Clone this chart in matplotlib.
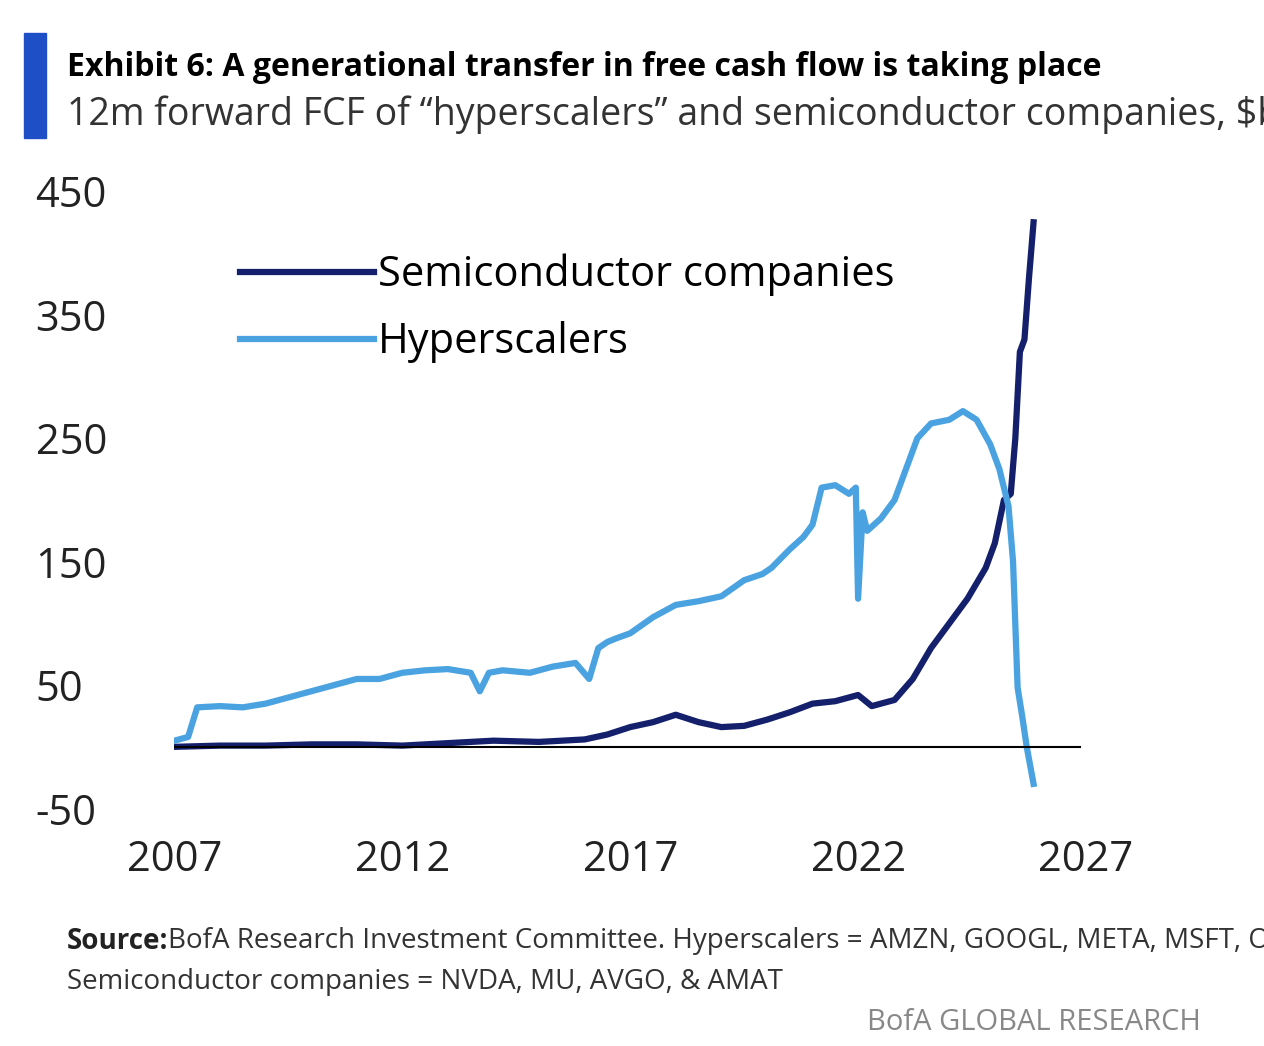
import matplotlib.pyplot as plt

hyper_x = [2007.0, 2007.3, 2007.5, 2008.0, 2008.5, 2009.0, 2009.5, 2010.0, 2010.5, 2011.0, 2011.5, 2012.0,
           2012.5, 2013.0, 2013.5, 2013.7, 2013.9, 2014.2, 2014.8, 2015.3, 2015.8, 2016.1, 2016.3, 2016.5,
           2016.7, 2017.0, 2017.5, 2018.0, 2018.5, 2019.0, 2019.5, 2019.9, 2020.1, 2020.5, 2020.8, 2021.0,
           2021.2, 2021.5, 2021.8, 2021.95, 2022.0, 2022.1, 2022.2, 2022.5, 2022.8, 2023.0, 2023.3, 2023.6,
           2024.0, 2024.3, 2024.6, 2024.9, 2025.1, 2025.3, 2025.4, 2025.5, 2025.6, 2025.7, 2025.85]
hyper_y = [5, 8, 32, 33, 32, 35, 40, 45, 50, 55, 55, 60,
           62, 63, 60, 45, 60, 62, 60, 65, 68, 55, 80, 85,
           88, 92, 105, 115, 118, 122, 135, 140, 145, 160, 170, 180,
           210, 212, 205, 210, 120, 190, 175, 185, 200, 220, 250, 262,
           265, 272, 265, 245, 225, 195, 150, 48, 25, 0, -30]

semi_x = [2007.0, 2008.0, 2009.0, 2010.0, 2011.0, 2012.0, 2013.0, 2014.0, 2015.0, 2016.0, 2016.5,
          2017.0, 2017.5, 2018.0, 2018.5, 2019.0, 2019.5, 2020.0, 2020.5, 2021.0, 2021.5, 2022.0,
          2022.3, 2022.8, 2023.2, 2023.6, 2024.0, 2024.4, 2024.8, 2025.0, 2025.2, 2025.35, 2025.45,
          2025.55, 2025.65, 2025.75, 2025.85]
semi_y = [0, 1, 1, 2, 2, 1, 3, 5, 4, 6, 10,
          16, 20, 26, 20, 16, 17, 22, 28, 35, 37, 42,
          33, 38, 55, 80, 100, 120, 145, 165, 200, 205, 250,
          320, 330, 380, 425]

plt.rcParams['font.family'] = ['Liberation Sans Narrow', 'Open Sans', 'DejaVu Sans']
plt.rcParams['axes.unicode_minus'] = False
fig = plt.figure(figsize=(12.64, 10.46), dpi=100)
ax = fig.add_axes([0.138, 0.227, 0.75, 0.59])

ax.plot(semi_x, semi_y, color='#14206b', lw=4.5, label='Semiconductor companies')
ax.plot(hyper_x, hyper_y, color='#4aa3e0', lw=4.5, label='Hyperscalers')
ax.axhline(0, color='black', lw=1.5, xmin=0, xmax=0.955)

ax.set_xlim(2007, 2027.8)
ax.set_ylim(-50, 450)
ax.set_xticks([2007, 2012, 2017, 2022, 2027])
ax.set_yticks([-50, 50, 150, 250, 350, 450])
ax.tick_params(labelsize=30, length=0, colors='#222222')
ax.tick_params(axis='x', pad=22)
ax.tick_params(axis='y', pad=35)
for t in ax.get_yticklabels():
    t.set_horizontalalignment('left')
ax.yaxis.set_tick_params(pad=100)
for s in ax.spines.values():
    s.set_visible(False)
ax.legend(loc='upper left', bbox_to_anchor=(0.03, 0.96), frameon=False, fontsize=30,
          handlelength=3.2, handletextpad=0.1, labelspacing=0.6)

fig.patches.append(plt.Rectangle((0.019, 0.868), 0.017, 0.1, color='#1f4fc7', transform=fig.transFigure))
fig.text(0.053, 0.935, 'Exhibit 6: A generational transfer in free cash flow is taking place',
         fontsize=23, fontweight='bold', va='center', family=['Open Sans'])
fig.text(0.053, 0.89, '12m forward FCF of \u201chyperscalers\u201d and semiconductor companies, $bn',
         fontsize=27, va='center', color='#333333')
src = fig.text(0.053, 0.1, 'Source:', fontsize=20, fontweight='bold', va='center', color='#222222')
fig.text(0.133, 0.1, 'BofA Research Investment Committee. Hyperscalers = AMZN, GOOGL, META, MSFT, ORCL.',
         fontsize=20, va='center', color='#333333')
fig.text(0.053, 0.061, 'Semiconductor companies = NVDA, MU, AVGO, & AMAT',
         fontsize=20, va='center', color='#333333')
fig.text(0.95, 0.022, 'BofA GLOBAL RESEARCH', fontsize=21, ha='right', va='center', color='#888888')

fig.savefig('out.png', dpi=100)
